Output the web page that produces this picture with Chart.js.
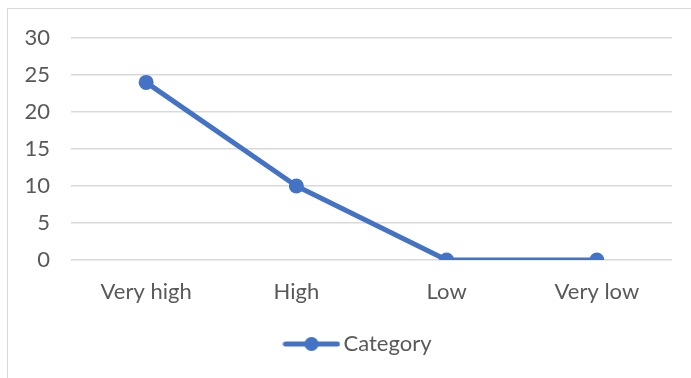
<!DOCTYPE html>
<html>
<head>
<meta charset="utf-8">
<script src="https://cdn.jsdelivr.net/npm/chart.js@4/dist/chart.umd.min.js"></script>
<style>
  html, body { margin: 0; padding: 0; background: #fff; }
  #wrap { position: relative; width: 691px; height: 378px; overflow: hidden; }
  #frame { position: absolute; left: 7px; top: 8px; width: 700px; height: 400px; border: 1px solid #d9d9d9; box-sizing: border-box; }
  canvas { position: absolute; left: 0; top: 0; }
</style>
</head>
<body>
<div id="wrap">
  <div id="frame"></div>
  <canvas id="chart" width="691" height="378"></canvas>
</div>
<script>
const categories = ['Very high', 'High', 'Low', 'Very low'];
const seriesName = 'Category';
const seriesValues = [24, 10, 0, 0];
const yTicks = [0, 5, 10, 15, 20, 25, 30];

const BLUE = '#4472C4';
const TEXT = '#595959';
const FONT = 'Lato, "Open Sans", sans-serif';

// Legend symbol: a short line with a circle marker through it
const legendIcon = document.createElement('canvas');
legendIcon.width = 58; legendIcon.height = 16;
(function () {
  const c = legendIcon.getContext('2d');
  c.strokeStyle = BLUE; c.lineWidth = 5; c.lineCap = 'round';
  c.beginPath(); c.moveTo(3, 8); c.lineTo(55, 8); c.stroke();
  c.fillStyle = BLUE;
  c.beginPath(); c.arc(29, 8, 7, 0, Math.PI * 2); c.fill();
})();

// Nudge the legend so it sits centred under the plot area
const legendShift = {
  id: 'legendShift',
  afterLayout(chart) { chart.legend.left += 25; chart.legend.right += 25; }
};

new Chart(document.getElementById('chart'), {
  type: 'line',
  data: {
    labels: categories,
    datasets: [{
      label: seriesName,
      data: seriesValues,
      borderColor: BLUE,
      backgroundColor: BLUE,
      borderWidth: 5,
      pointRadius: 7.5,
      pointHoverRadius: 7.5,
      pointBackgroundColor: BLUE,
      pointBorderWidth: 0,
      tension: 0,
      borderCapStyle: 'round',
      borderJoinStyle: 'round'
    }]
  },
  plugins: [legendShift],
  options: {
    responsive: false,
    animation: false,
    layout: { padding: { top: 38, right: 19, left: 0, bottom: 13 } },
    plugins: {
      tooltip: { enabled: false },
      legend: {
        position: 'bottom',
        labels: {
          color: TEXT,
          font: { family: FONT, size: 22 },
          usePointStyle: true,
          pointStyleWidth: 42,
          boxHeight: 16,
          padding: 10,
          generateLabels: () => [{
            text: seriesName,
            pointStyle: legendIcon,
            fontColor: TEXT,
            datasetIndex: 0,
            hidden: false,
            lineWidth: 0
          }]
        }
      }
    },
    scales: {
      x: {
        offset: true,
        grid: { display: false, drawTicks: false },
        border: { display: false },
        ticks: { color: TEXT, font: { family: FONT, size: 22 }, padding: 19, maxRotation: 0 },
        afterFit: (s) => { s.height = 63; }
      },
      y: {
        min: 0, max: 30,
        afterBuildTicks: (s) => { s.ticks = yTicks.map(v => ({ value: v })); },
        grid: { color: '#d9d9d9', lineWidth: 1.5, drawTicks: false },
        border: { display: false },
        ticks: { color: TEXT, font: { family: FONT, size: 22 }, padding: 21 },
        afterFit: (s) => { s.width = 71; }
      }
    }
  }
});
</script>
</body>
</html>
